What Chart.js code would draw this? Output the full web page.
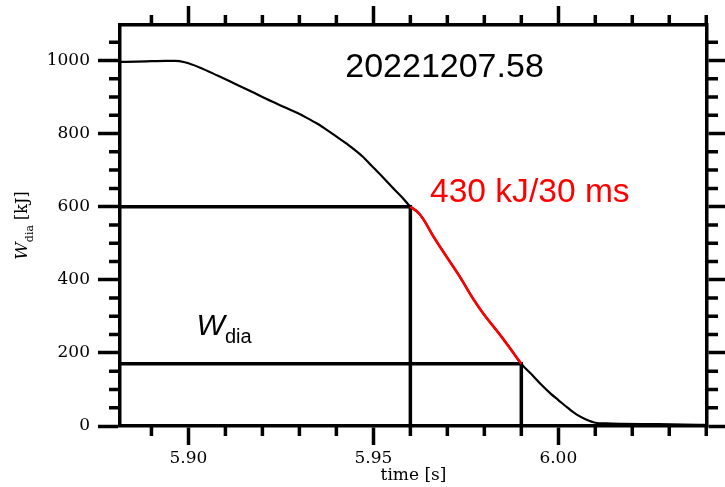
<!DOCTYPE html>
<html>
<head>
<meta charset="utf-8">
<script src="https://cdn.jsdelivr.net/npm/chart.js@4.4.0/dist/chart.umd.min.js"></script>
<style>
    html, body { margin: 0; padding: 0; background: #fff; }
</style>
</head>
<body>
<canvas id="graficaWdia" width="725" height="487"></canvas>
<script>
// Energia diamagnetica del disparo 20221207.58 alrededor del colapso
const tiempo = [5.8815, 5.8860, 5.8900, 5.8940, 5.8965, 5.8990, 5.9030, 5.9080, 5.9120, 5.9170,
    5.9210, 5.9260, 5.9295, 5.9320, 5.9350, 5.9380, 5.9410, 5.9440, 5.9470, 5.9500,
    5.9530, 5.9555, 5.9580, 5.9600, 5.9620, 5.9635, 5.9662, 5.9698, 5.9734, 5.9771,
    5.9797, 5.9842, 5.9870, 5.9900, 5.9932, 5.9955, 5.9980, 6.0000, 6.0025, 6.0050,
    6.0075, 6.0100, 6.0130, 6.0170, 6.0260, 6.0340, 6.0402];
const wdia = [996, 997, 998, 999, 999, 995, 981, 958, 939, 915,
    895, 872, 856, 843, 826, 806, 785, 763, 738, 707,
    676, 649, 623, 600, 585, 566, 519, 463, 408, 346,
    308, 250, 212, 170, 137, 112, 88, 71, 50, 31,
    18, 9, 7, 6, 5, 4, 3];

// tramo de caida marcado en rojo (430 kJ en 30 ms)
const tramoInicio = 5.96;
const tramoFin = 5.99;
const nivelAlto = 600;
const nivelBajo = 170;

const xMin = 5.8815;
const xMax = 6.0402;
const yMin = 0;
const yMax = 1097;

const xTicksMayor = [5.90, 5.95, 6.00];
const xTicksMenor = [5.89, 5.91, 5.92, 5.93, 5.94, 5.96, 5.97, 5.98, 5.99, 6.01, 6.02, 6.03, 6.04];
const yTicksMayor = [0, 200, 400, 600, 800, 1000];
const yTicksMenor = [50, 100, 150, 250, 300, 350, 450, 500, 550, 650, 700, 750, 850, 900, 950, 1050];

const puntos = tiempo.map((t, i) => ({ x: t, y: wdia[i] }));
const puntosTramo = puntos.filter(p => p.x >= tramoInicio && p.x <= tramoFin);

const NEGRO = '#000000';
const ROJO = '#ff0000';
const fuenteEjes = { family: 'DejaVu Serif', size: 17 };

// marcas menores en los cuatro lados del marco
const marcasMenores = {
    id: 'marcasMenores',
    afterDraw(chart) {
        const { ctx, chartArea, scales } = chart;
        ctx.save();
        ctx.strokeStyle = NEGRO;
        ctx.lineWidth = 3.5;
        ctx.beginPath();
        xTicksMenor.forEach(v => {
            const px = scales.x.getPixelForValue(v);
            ctx.moveTo(px, chartArea.bottom);
            ctx.lineTo(px, chartArea.bottom + 10);
            ctx.moveTo(px, chartArea.top);
            ctx.lineTo(px, chartArea.top - 10);
        });
        yTicksMenor.forEach(v => {
            const py = scales.y.getPixelForValue(v);
            ctx.moveTo(chartArea.left, py);
            ctx.lineTo(chartArea.left - 11, py);
            ctx.moveTo(chartArea.right, py);
            ctx.lineTo(chartArea.right + 11, py);
        });
        ctx.stroke();
        ctx.restore();
    }
};

// titulo del eje y con subindice y textos dentro del grafico
const textos = {
    id: 'textos',
    afterDraw(chart) {
        const { ctx, chartArea, scales: { x, y } } = chart;
        ctx.save();
        ctx.textAlign = 'left';
        ctx.textBaseline = 'alphabetic';

        ctx.fillStyle = NEGRO;
        ctx.font = '34px "Liberation Sans", Arial, sans-serif';
        ctx.fillText('20221207.58', x.getPixelForValue(5.9424), y.getPixelForValue(956));

        ctx.fillStyle = ROJO;
        ctx.font = '33.6px "Liberation Sans", Arial, sans-serif';
        ctx.fillText('430 kJ/30 ms', x.getPixelForValue(5.9653), y.getPixelForValue(614));

        ctx.fillStyle = NEGRO;
        const wx = x.getPixelForValue(5.9022);
        const wy = y.getPixelForValue(249);
        ctx.font = 'italic 30px "Liberation Sans", Arial, sans-serif';
        ctx.fillText('W', wx, wy);
        const anchoW = ctx.measureText('W').width;
        ctx.font = '20px "Liberation Sans", Arial, sans-serif';
        ctx.fillText('dia', wx + anchoW, wy + 8);

        // W_dia [kJ] girado
        ctx.translate(27, (chartArea.top + chartArea.bottom) / 2);
        ctx.rotate(-Math.PI / 2);
        const fW = 'italic 17px "DejaVu Serif", serif';
        const fSub = '11px "DejaVu Serif", serif';
        const fUnid = '16px "DejaVu Serif", serif';
        ctx.font = fW;
        const a1 = ctx.measureText('W').width;
        ctx.font = fSub;
        const a2 = ctx.measureText('dia').width;
        ctx.font = fUnid;
        const a3 = ctx.measureText(' [kJ]').width;
        let px = -(a1 + a2 + a3) / 2;
        ctx.font = fW;
        ctx.fillText('W', px, 0);
        px += a1;
        ctx.font = fSub;
        ctx.fillText('dia', px, 6);
        px += a2;
        ctx.font = fUnid;
        ctx.fillText(' [kJ]', px, 0);
        ctx.restore();
    }
};

function ejeX(posicion, alto, conEtiquetas) {
    return {
        type: 'linear',
        position: posicion,
        min: xMin,
        max: xMax,
        afterBuildTicks: s => { s.ticks = xTicksMayor.map(v => ({ value: v })); },
        afterFit: s => { s.height = alto; },
        border: { display: true, color: NEGRO, width: 3.5 },
        grid: {
            display: true,
            drawOnChartArea: false,
            drawTicks: true,
            tickLength: 19,
            tickWidth: 3.5,
            tickColor: NEGRO
        },
        ticks: {
            display: conEtiquetas,
            color: NEGRO,
            font: fuenteEjes,
            padding: 3,
            maxRotation: 0,
            autoSkip: false,
            callback: v => v.toFixed(2)
        },
        title: {
            display: conEtiquetas,
            text: 'time [s]',
            color: NEGRO,
            font: fuenteEjes,
            padding: { top: 0, bottom: 1 }
        }
    };
}

function ejeY(posicion, ancho, conEtiquetas) {
    return {
        type: 'linear',
        position: posicion,
        min: yMin,
        max: yMax,
        afterBuildTicks: s => { s.ticks = yTicksMayor.map(v => ({ value: v })); },
        afterFit: s => { s.width = ancho; },
        border: { display: true, color: NEGRO, width: 3.5 },
        grid: {
            display: true,
            drawOnChartArea: false,
            drawTicks: true,
            tickLength: 22,
            tickWidth: 3.5,
            tickColor: NEGRO
        },
        ticks: {
            display: conEtiquetas,
            color: NEGRO,
            font: fuenteEjes,
            padding: 8,
            autoSkip: false,
            callback: v => `${v}`
        }
    };
}

const ctx = document.getElementById('graficaWdia').getContext('2d');

new Chart(ctx, {
    type: 'line',
    data: {
        datasets: [
            {
                label: 'Wdia',
                data: puntos,
                borderColor: NEGRO,
                borderWidth: 2.2,
                pointRadius: 0,
                cubicInterpolationMode: 'monotone',
                order: 3
            },
            {
                label: 'caida',
                data: puntosTramo,
                borderColor: ROJO,
                borderWidth: 2.6,
                pointRadius: 0,
                cubicInterpolationMode: 'monotone',
                order: 1
            },
            {
                label: 'nivel alto',
                data: [{ x: xMin, y: nivelAlto }, { x: tramoInicio, y: nivelAlto }, { x: tramoInicio, y: yMin }],
                borderColor: NEGRO,
                borderWidth: 3.5,
                borderJoinStyle: 'miter',
                pointRadius: 0,
                order: 2
            },
            {
                label: 'nivel bajo',
                data: [{ x: xMin, y: nivelBajo }, { x: tramoFin, y: nivelBajo }, { x: tramoFin, y: yMin }],
                borderColor: NEGRO,
                borderWidth: 3.5,
                borderJoinStyle: 'miter',
                pointRadius: 0,
                order: 2
            }
        ]
    },
    options: {
        responsive: false,
        animation: false,
        layout: { padding: 0 },
        plugins: {
            legend: { display: false },
            tooltip: { enabled: false }
        },
        scales: {
            x: ejeX('bottom', 61, true),
            xArriba: ejeX('top', 25, false),
            y: ejeY('left', 120, true),
            yDerecha: ejeY('right', 18, false)
        }
    },
    plugins: [marcasMenores, textos]
});
</script>
</body>
</html>
